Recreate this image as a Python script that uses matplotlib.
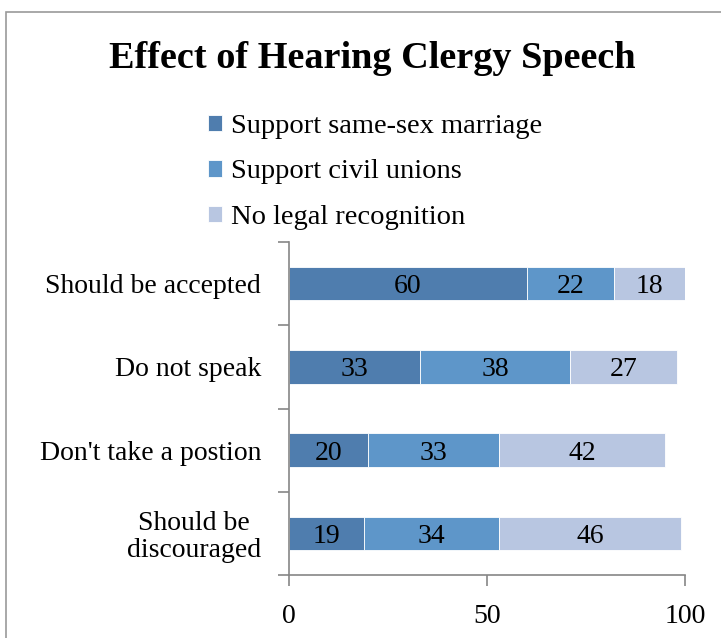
import matplotlib
matplotlib.use("Agg")
import matplotlib.pyplot as plt
from matplotlib.patches import Rectangle
import numpy as np

categories = ["Should be accepted", "Do not speak", "Don't take a postion", "Should be\ndiscouraged"]
series_names = ["Support same-sex marriage", "Support civil unions", "No legal recognition"]
marriage = [60, 33, 20, 19]
civil = [22, 38, 33, 34]
none_ = [18, 27, 42, 46]
colors = ["#4F7DAE", "#5E96C9", "#B8C6E1"]
x_ticks = [0, 50, 100]

plt.rcParams['font.family'] = ['Liberation Serif', 'DejaVu Serif']

fig = plt.figure(figsize=(7.21, 6.38), dpi=100)
fig.patches.append(Rectangle((6/721, -0.1), 1.2, 1 - 12/638 + 0.1, transform=fig.transFigure,
                             fill=False, edgecolor="#9A9A9A", linewidth=1.2))

ax = fig.add_axes([289/721, 1 - 575/638, 396/721, 333/638])
y = np.arange(len(categories))
left = np.zeros(len(categories))
for vals, name, c in zip([marriage, civil, none_], series_names, colors):
    ax.barh(y, vals, left=left, height=0.4, color=c, edgecolor="white", linewidth=0.6, label=name)
    for yi, v, l in zip(y, vals, left):
        ax.text(l + v / 2, yi, str(v), ha="center", va="center_baseline", fontsize=20, color="black")
    left = left + np.array(vals)

ax.set_xlim(0, 100)
ax.set_ylim(len(categories) - 0.5, -0.5)
ax.set_xticks(x_ticks)
ax.set_xticklabels([str(t) for t in x_ticks], fontsize=20)
ax.set_yticks(y)
ax.set_yticklabels(categories, fontsize=20, multialignment="center", linespacing=1.1)
ax.set_yticks(np.arange(-0.5, len(categories), 1), minor=True)
ax.tick_params(axis="y", which="major", length=0, pad=20)
ax.tick_params(axis="y", which="minor", length=8, color="#868686", width=1.2)
ax.tick_params(axis="x", length=8, color="#868686", width=1.2, pad=13)
for s in ["top", "right"]:
    ax.spines[s].set_visible(False)
for s in ["left", "bottom"]:
    ax.spines[s].set_color("#868686")
    ax.spines[s].set_linewidth(1.2)

fig.text(372/721, 1 - 58/638, "Effect of Hearing Clergy Speech", ha="center", va="center",
         fontsize=27.5, fontweight="bold")

handles, labels = ax.get_legend_handles_labels()
fig.legend(handles, labels, loc="upper left", bbox_to_anchor=(208/721, 1 - 114/638),
           frameon=False, fontsize=20.5, handlelength=0.5, handleheight=0.5,
           handletextpad=0.3, labelspacing=0.72, borderpad=0, borderaxespad=0)

fig.savefig("out.png", dpi=100)
